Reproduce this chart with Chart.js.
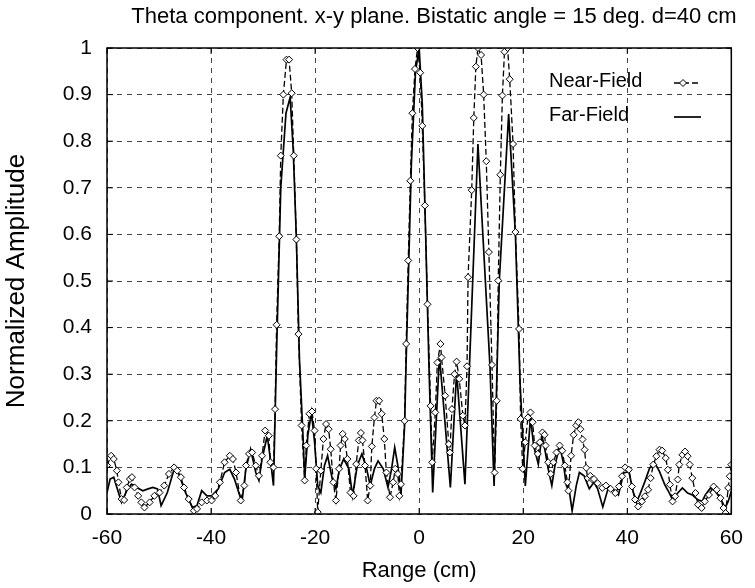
<!DOCTYPE html>
<html>
<head>
<meta charset="utf-8">
<script src="https://cdn.jsdelivr.net/npm/chart.js@4.4.1/dist/chart.umd.min.js"></script>
<style>
  html, body { margin: 0; padding: 0; background: #fff; }
  #wrap { width: 755px; height: 588px; position: relative; }
</style>
</head>
<body>
<div id="wrap"><canvas id="rangeChart"></canvas></div>
<script>
// values
const titleText = 'Theta component. x-y plane. Bistatic angle = 15 deg. d=40 cm';
const xTickValues = [-60, -40, -20, 0, 20, 40, 60];
const yTickValues = [0, 0.1, 0.2, 0.3, 0.4, 0.5, 0.6, 0.7, 0.8, 0.9, 1];

const nearX = [
  -60, -59.2, -58.7, -58.1, -57.8, -57.2, -56.7, -56.2, -55.6, -55.2,
  -54.7, -54.0, -53.4, -52.8, -51.8, -50.9, -49.9, -49.0, -48.1, -47.1,
  -46.5, -45.8, -45.2, -44.3, -43.3, -42.7, -41.8, -40.8, -39.9, -39.2,
  -38.3, -37.4, -36.4, -35.8, -35.2, -34.3, -33.6, -33.3, -32.7, -32.1,
  -31.4, -30.8, -30.2, -29.6, -28.9, -28.6, -28.0, -27.7, -27.4, -26.9,
  -26.6, -26.1, -25.5, -25.0, -24.5, -24.1, -23.6, -23.2, -22.6, -22.0,
  -21.7, -21.1, -20.6, -20.1, -19.8, -19.5, -18.9, -18.4, -17.9, -17.4,
  -17.0, -16.5, -16.0, -15.4, -15.1, -14.7, -14.3, -13.8, -13.2, -12.6,
  -12.1, -11.6, -11.2, -10.9, -10.4, -9.9, -9.4, -9.1, -8.6, -8.2,
  -7.7, -7.2, -6.7, -6.3, -5.6, -5.0, -4.6, -4.1, -3.8, -3.5,
  -2.8, -2.5, -2.1, -1.7, -1.3, -0.8, -0.3, 0.2, 0.6, 1.1,
  1.6, 2.2, 2.5, 3.1, 3.5, 4.1, 4.3, 5.0, 5.7, 5.9,
  6.3, 6.8, 7.2, 7.7, 8.4, 8.8, 9.2, 9.4, 10.1, 10.5,
  10.9, 11.3, 11.9, 12.4, 12.9, 13.4, 14.0, 14.5, 14.9, 15.2,
  15.6, 16.0, 16.4, 17.0, 17.4, 18.05, 18.5, 19.2, 19.5, 19.9,
  20.4, 20.9, 21.4, 21.8, 22.2, 22.8, 23.2, 23.7, 24.1, 24.3,
  24.8, 25.3, 25.8, 26.4, 27.0, 27.5, 28.0, 28.5, 28.7, 29.2,
  29.7, 30.2, 30.6, 31.0, 31.4, 31.8, 32.1, 32.4, 32.9, 33.3,
  33.6, 34.3, 35.2, 35.9, 36.8, 37.7, 38.4, 39.0, 39.6, 40.3,
  40.9, 41.5, 42.1, 42.8, 43.4, 44.0, 44.5, 45.0, 45.6, 46.2,
  46.7, 47.4, 47.8, 48.2, 48.7, 49.2, 49.7, 50.0, 50.6, 51.1,
  51.6, 52.0, 52.5, 53.1, 53.6, 54.3, 54.9, 55.7, 56.6, 57.2,
  57.9, 58.5, 58.9, 59.4, 59.7, 60.0
];
const nearY = [
  0.104, 0.125, 0.118, 0.093, 0.068, 0.032, 0.030, 0.057, 0.075, 0.079,
  0.057, 0.039, 0.025, 0.014, 0.025, 0.039, 0.046, 0.061, 0.086, 0.100,
  0.093, 0.079, 0.057, 0.032, 0.007, 0.011, 0.025, 0.029, 0.029, 0.039,
  0.068, 0.111, 0.125, 0.118, 0.089, 0.029, 0.061, 0.104, 0.129, 0.132,
  0.104, 0.082, 0.125, 0.179, 0.168, 0.111, 0.100, 0.225, 0.406, 0.596,
  0.769, 0.900, 0.975, 0.975, 0.903, 0.769, 0.589, 0.386, 0.190, 0.072,
  0.147, 0.215, 0.220, 0.179, 0.097, 0.004, 0.093, 0.161, 0.193, 0.182,
  0.139, 0.068, 0.029, 0.097, 0.147, 0.172, 0.161, 0.118, 0.046, 0.039,
  0.107, 0.158, 0.174, 0.158, 0.104, 0.029, 0.061, 0.145, 0.207, 0.243,
  0.243, 0.215, 0.161, 0.089, 0.036, 0.068, 0.097, 0.086, 0.039, 0.064,
  0.200, 0.365, 0.544, 0.715, 0.860, 0.955, 1.000, 0.947, 0.833, 0.662,
  0.450, 0.232, 0.111, 0.218, 0.325, 0.365, 0.336, 0.254, 0.150, 0.132,
  0.225, 0.300, 0.327, 0.290, 0.211, 0.190, 0.317, 0.508, 0.695, 0.850,
  0.960, 1.000, 0.985, 0.900, 0.757, 0.562, 0.320, 0.089, 0.243, 0.501,
  0.728, 0.898, 0.992, 1.000, 0.933, 0.794, 0.605, 0.397, 0.204, 0.097,
  0.154, 0.207, 0.218, 0.197, 0.147, 0.129, 0.154, 0.175, 0.170, 0.147,
  0.111, 0.086, 0.111, 0.132, 0.147, 0.136, 0.104, 0.068, 0.050, 0.125,
  0.170, 0.190, 0.197, 0.182, 0.160, 0.138, 0.099, 0.077, 0.082, 0.074,
  0.075, 0.066, 0.056, 0.061, 0.054, 0.045, 0.059, 0.081, 0.100, 0.095,
  0.059, 0.031, 0.016, 0.027, 0.038, 0.052, 0.077, 0.106, 0.124, 0.138,
  0.136, 0.120, 0.095, 0.063, 0.027, 0.038, 0.074, 0.106, 0.127, 0.134,
  0.124, 0.106, 0.077, 0.045, 0.020, 0.013, 0.027, 0.041, 0.059, 0.052,
  0.034, 0.013, 0.002, 0.056, 0.081, 0.106
];

const farX = [
  -60, -59.4, -58.7, -58.1, -57.2, -56.2, -55.3, -54.3, -53.1, -52.1,
  -51.2, -50.3, -49.6, -48.4, -47.1, -46.2, -44.9, -43.6, -42.7, -41.8,
  -40.8, -39.9, -38.6, -37.4, -36.4, -35.5, -34.5, -34.0, -33.3, -32.4,
  -31.4, -30.8, -30.2, -29.2, -28.6, -28.0, -27.4, -26.6, -25.6, -24.8,
  -24.2, -23.6, -23.0, -22.3, -22.0, -21.4, -20.7, -20.1, -19.5, -18.9,
  -18.2, -17.6, -16.7, -16.0, -15.3, -14.5, -13.5, -12.8, -11.9, -11.0,
  -10.1, -9.4, -8.6, -7.9, -6.9, -6.0, -5.3, -4.7, -4.1, -3.5,
  -2.8, -2.5, -1.5, -0.7, 0.0, 0.6, 1.2, 1.9, 2.6, 3.9,
  6.0, 7.2, 8.8, 11.3, 13.6, 14.4, 15.4, 17.2, 18.5, 19.4,
  20.4, 21.4, 22.0, 22.9, 23.6, 24.2, 24.8, 25.5, 26.1, 27.0,
  27.7, 28.3, 28.9, 29.4, 30.2, 30.8, 31.7, 32.7, 33.6, 34.3,
  35.3, 36.3, 37.4, 38.3, 39.3, 40.3, 41.2, 41.8, 42.4, 43.4,
  44.3, 45.3, 46.2, 47.2, 48.1, 48.7, 49.7, 50.6, 51.6, 52.5,
  53.5, 54.4, 55.0, 56.0, 56.9, 57.9, 58.8, 59.4, 60.0
];
const farY = [
  0.046, 0.075, 0.079, 0.057, 0.025, 0.050, 0.064, 0.057, 0.050, 0.054,
  0.057, 0.054, 0.018, 0.046, 0.096, 0.086, 0.046, 0.014, 0.018, 0.050,
  0.039, 0.039, 0.054, 0.089, 0.096, 0.075, 0.040, 0.032, 0.097, 0.139,
  0.089, 0.072, 0.118, 0.168, 0.118, 0.061, 0.350, 0.700, 0.860, 0.894,
  0.780, 0.590, 0.330, 0.161, 0.075, 0.168, 0.218, 0.154, 0.061, 0.046,
  0.104, 0.125, 0.075, 0.054, 0.097, 0.118, 0.097, 0.039, 0.104, 0.129,
  0.097, 0.061, 0.097, 0.114, 0.097, 0.057, 0.097, 0.143, 0.104, 0.039,
  0.190, 0.330, 0.750, 0.950, 1.000, 0.880, 0.620, 0.310, 0.046, 0.340,
  0.057, 0.304, 0.064, 0.794, 0.320, 0.060, 0.500, 0.858, 0.600, 0.280,
  0.060, 0.207, 0.147, 0.107, 0.168, 0.136, 0.097, 0.061, 0.104, 0.147,
  0.111, 0.061, 0.046, 0.007, 0.061, 0.089, 0.082, 0.054, 0.068, 0.054,
  0.015, 0.054, 0.052, 0.041, 0.088, 0.091, 0.045, 0.027, 0.041, 0.070,
  0.099, 0.109, 0.091, 0.063, 0.045, 0.031, 0.045, 0.056, 0.045, 0.041,
  0.031, 0.027, 0.041, 0.056, 0.049, 0.034, 0.013, 0.027, 0.049
];

const FONT = '"Liberation Sans", Arial, Helvetica, sans-serif';

function toPoints(xs, ys) {
  return xs.map((x, i) => ({ x: x, y: ys[i] }));
}

// frame, inward ticks, title and gnuplot-style legend
const extrasPlugin = {
  id: 'extras',
  afterDatasetsDraw(chart) {
    const ctx = chart.ctx;
    const a = chart.chartArea;
    const xs = chart.scales.x, ys = chart.scales.y;
    ctx.save();
    ctx.setLineDash([]);
    ctx.strokeStyle = '#000';
    ctx.lineWidth = 1.5;
    ctx.strokeRect(a.left, a.top, a.right - a.left, a.bottom - a.top);

    ctx.lineWidth = 1;
    ctx.beginPath();
    xTickValues.forEach(v => {
      const px = xs.getPixelForValue(v);
      ctx.moveTo(px, a.bottom); ctx.lineTo(px, a.bottom - 6);
      ctx.moveTo(px, a.top); ctx.lineTo(px, a.top + 6);
    });
    yTickValues.forEach(v => {
      const py = ys.getPixelForValue(v);
      ctx.moveTo(a.left, py); ctx.lineTo(a.left + 6, py);
      ctx.moveTo(a.right, py); ctx.lineTo(a.right - 6, py);
    });
    ctx.stroke();

    // title
    ctx.fillStyle = '#000';
    ctx.font = '22px ' + FONT;
    ctx.textAlign = 'center';
    ctx.textBaseline = 'alphabetic';
    ctx.fillText(titleText, 434, 23);

    // legend: text on the left, sample on the right
    ctx.font = '20px ' + FONT;
    ctx.textAlign = 'left';
    const rows = [{ ds: chart.data.datasets[0], y: 81 }, { ds: chart.data.datasets[1], y: 115 }];
    rows.forEach(r => {
      ctx.fillStyle = '#000';
      ctx.textBaseline = 'middle';
      ctx.fillText(r.ds.label, 549, r.y);
      ctx.strokeStyle = '#000';
      ctx.lineWidth = r.ds.borderWidth;
      ctx.setLineDash(r.ds.borderDash || []);
      ctx.beginPath();
      ctx.moveTo(674, r.y + 2); ctx.lineTo(701, r.y + 2);
      ctx.stroke();
      ctx.setLineDash([]);
      if (r.ds.pointRadius > 0) {
        const cx = 683, cy = r.y + 2, s = r.ds.pointRadius;
        ctx.beginPath();
        ctx.moveTo(cx, cy - s); ctx.lineTo(cx + s, cy); ctx.lineTo(cx, cy + s); ctx.lineTo(cx - s, cy);
        ctx.closePath();
        ctx.fillStyle = '#fff';
        ctx.fill();
        ctx.lineWidth = 1;
        ctx.stroke();
      }
    });
    ctx.restore();
  }
};

const ctx = document.getElementById('rangeChart').getContext('2d');
new Chart(ctx, {
  type: 'line',
  data: {
    datasets: [
      {
        label: 'Near-Field',
        data: toPoints(nearX, nearY),
        borderColor: '#000',
        borderWidth: 1.3,
        borderDash: [6, 3],
        pointStyle: 'rectRot',
        pointRadius: 3.5,
        pointBackgroundColor: '#fff',
        pointBorderColor: '#000',
        pointBorderWidth: 1,
        tension: 0,
        fill: false
      },
      {
        label: 'Far-Field',
        data: toPoints(farX, farY),
        borderColor: '#000',
        borderWidth: 1.7,
        pointRadius: 0,
        tension: 0,
        fill: false
      }
    ]
  },
  options: {
    responsive: true,
    maintainAspectRatio: false,
    animation: false,
    layout: { padding: { top: 48, right: 12, left: 0, bottom: 0 } },
    plugins: {
      legend: { display: false },
      title: { display: false },
      tooltip: { enabled: false }
    },
    scales: {
      x: {
        type: 'linear',
        min: -60,
        max: 60,
        afterFit: s => { s.height = 74; },
        afterBuildTicks: s => { s.ticks = xTickValues.map(v => ({ value: v })); },
        ticks: { font: { family: FONT, size: 21 }, color: '#000', padding: 12, maxRotation: 0 },
        grid: { color: '#444', lineWidth: 1, drawTicks: false },
        border: { display: false, dash: [5, 5] },
        title: { display: true, text: 'Range (cm)', font: { family: FONT, size: 22 }, color: '#000', padding: { top: 2, bottom: 4 } }
      },
      y: {
        min: 0,
        max: 1,
        afterFit: s => { s.width = 107; },
        afterBuildTicks: s => { s.ticks = yTickValues.map(v => ({ value: v })); },
        ticks: {
          font: { family: FONT, size: 21 },
          color: '#000',
          padding: 15,
          callback: v => String(Math.round(v * 10) / 10)
        },
        grid: { color: '#444', lineWidth: 1, drawTicks: false },
        border: { display: false, dash: [5, 5] },
        title: { display: true, text: 'Normalized Amplitude', font: { family: FONT, size: 26 }, color: '#000', padding: { top: 1, bottom: 2 } }
      }
    }
  },
  plugins: [extrasPlugin]
});
</script>
</body>
</html>
